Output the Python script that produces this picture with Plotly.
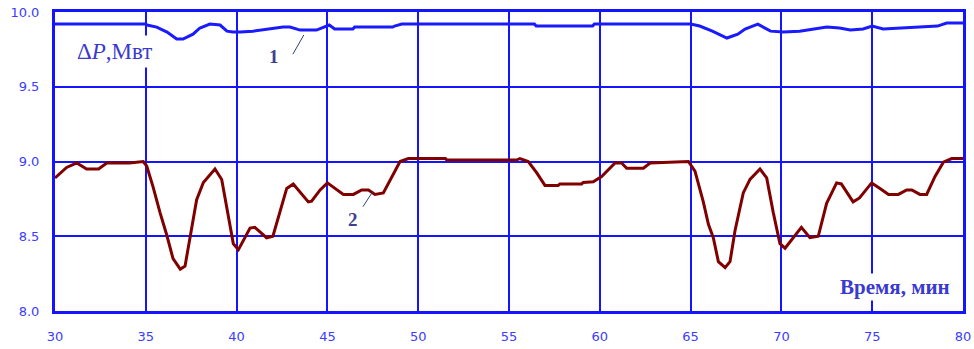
import plotly.graph_objects as go

# Time axis, minutes
t1 = [30.0, 35.0, 35.07, 35.6, 36.17, 36.7, 37.05, 37.6, 37.98, 38.53, 39.09, 39.47, 39.8,
      40.19, 40.9, 41.67, 42.56, 42.94, 43.5, 44.4, 44.76, 45.1, 45.4, 46.4, 46.5, 48.6,
      48.7, 49.1, 56.4, 56.5, 59.6, 59.7, 65.0, 65.5, 66.2, 67.0, 67.6, 68.0, 68.7, 69.4,
      70.1, 71.0, 71.8, 72.5, 73.2, 73.8, 74.5, 75.0, 75.6, 76.7, 77.6, 78.6, 79.1, 80.0]
# Curve 1, MW
p1 = [9.919, 9.919, 9.913, 9.899, 9.866, 9.819, 9.819, 9.852, 9.893, 9.919, 9.913, 9.872, 9.866,
      9.866, 9.872, 9.886, 9.899, 9.899, 9.879, 9.879, 9.899, 9.913, 9.886, 9.886, 9.899, 9.899,
      9.906, 9.919, 9.919, 9.906, 9.906, 9.919, 9.919, 9.906, 9.872, 9.826, 9.852, 9.886, 9.919, 9.872,
      9.866, 9.872, 9.886, 9.899, 9.893, 9.879, 9.886, 9.906, 9.886, 9.893, 9.899, 9.906, 9.926, 9.926]

t2 = [30.0, 30.64, 31.2, 31.74, 32.4, 32.85, 34.1, 34.86, 35.05, 35.4, 35.78, 36.15, 36.5, 36.9,
      37.16, 37.43, 37.8, 38.17, 38.81, 39.18, 39.54, 39.82, 40.1, 40.74, 41.0, 41.65, 42.0, 42.4,
      42.76, 43.12, 43.95, 44.13, 44.6, 45.0, 45.88, 46.43, 46.89, 47.26, 47.62, 48.08, 48.54, 49.0,
      49.46, 51.5, 51.57, 55.42, 55.6, 56.06, 56.52, 56.98, 57.71, 57.8, 59.0, 59.09, 59.64, 60.1,
      60.84, 61.2, 61.48, 62.4, 62.77, 64.24, 64.88, 65.24, 65.7, 65.98, 66.25, 66.53, 66.9, 67.17,
      67.45, 67.9, 68.27, 68.82, 69.19, 69.55, 69.92, 70.2, 70.65, 71.1, 71.57, 72.03, 72.49, 73.04,
      73.3, 73.95, 74.3, 74.97, 75.43, 75.9, 76.44, 76.9, 77.18, 77.63, 78.0, 78.46, 78.92, 79.38, 80.0]
# Curve 2, MW
p2 = [8.89, 8.96, 8.99, 8.95, 8.95, 8.99, 8.99, 9.00, 8.97, 8.83, 8.66, 8.51, 8.35, 8.28,
      8.30, 8.48, 8.745, 8.86, 8.95, 8.88, 8.63, 8.45, 8.41, 8.555, 8.56, 8.49, 8.50, 8.66,
      8.82, 8.85, 8.73, 8.735, 8.81, 8.857, 8.78, 8.78, 8.81, 8.81, 8.78, 8.79, 8.90, 9.00,
      9.02, 9.02, 9.01, 9.01, 9.02, 9.00, 8.925, 8.84, 8.84, 8.85, 8.85, 8.86, 8.865, 8.90,
      8.99, 8.99, 8.955, 8.955, 8.99, 8.995, 9.00, 8.935, 8.73, 8.58, 8.49, 8.33, 8.29, 8.33,
      8.54, 8.79, 8.88, 8.95, 8.89, 8.66, 8.45, 8.42, 8.49, 8.56, 8.49, 8.50, 8.72, 8.857,
      8.85, 8.73, 8.756, 8.857, 8.82, 8.78, 8.78, 8.81, 8.81, 8.78, 8.78, 8.90, 8.995, 9.02, 9.02]

x_ticks = [30, 35, 40, 45, 50, 55, 60, 65, 70, 75, 80]
y_ticks = [8.0, 8.5, 9.0, 9.5, 10.0]

BLUE = "#1414ff"
LABEL = "#3c3cff"
TEXT = "#3a3ad0"

fig = go.Figure()
fig.add_trace(go.Scatter(x=t1, y=p1, mode="lines", line=dict(color="#1a1aff", width=3),
                         showlegend=False, hoverinfo="skip"))
fig.add_trace(go.Scatter(x=t2, y=p2, mode="lines", line=dict(color="#800000", width=3),
                         showlegend=False, hoverinfo="skip"))

axis_common = dict(showline=True, linecolor=BLUE, linewidth=3, mirror=True,
                   showgrid=True, gridcolor=BLUE, gridwidth=2, zeroline=False, automargin=False,
                   ticks="", tickfont=dict(family="DejaVu Sans", size=13, color=LABEL))

fig.update_xaxes(range=[30, 80], tickvals=x_ticks, ticklabelstandoff=11, **axis_common)
fig.update_yaxes(range=[8, 10], tickvals=y_ticks, tickformat=".1f", ticklabelstandoff=10,
                 **axis_common)

# Leader lines for the curve numbers
leader = dict(type="line", xref="x", yref="y", line=dict(color="#304070", width=1))
fig.add_shape(x0=43.1, y0=9.718, x1=43.7, y1=9.846, **leader)
fig.add_shape(x0=46.96, y0=8.698, x1=47.5, y1=8.799, **leader)

fig.add_annotation(x=33.3, y=9.735, xref="x", yref="y", text="Δ<i>P</i>,Мвт", showarrow=False,
                   bgcolor="white", borderpad=3,
                   font=dict(family="Liberation Serif", size=23, color=TEXT))
fig.add_annotation(x=76.26, y=8.161, xref="x", yref="y", text="<b>Время, мин</b>", showarrow=False,
                   bgcolor="white", font=dict(family="Liberation Serif", size=21, color=TEXT))
fig.add_annotation(x=42.05, y=9.70, xref="x", yref="y", text="<b>1</b>", showarrow=False,
                   font=dict(family="Liberation Serif", size=19, color="#404090"))
fig.add_annotation(x=46.41, y=8.61, xref="x", yref="y", text="<b>2</b>",
                   showarrow=False, font=dict(family="Liberation Serif", size=19, color="#404090"))

fig.update_layout(width=974, height=349, margin=dict(l=55, r=11, t=12, b=38, autoexpand=False),
                  plot_bgcolor="white", paper_bgcolor="white")

fig.write_html("out.html")
